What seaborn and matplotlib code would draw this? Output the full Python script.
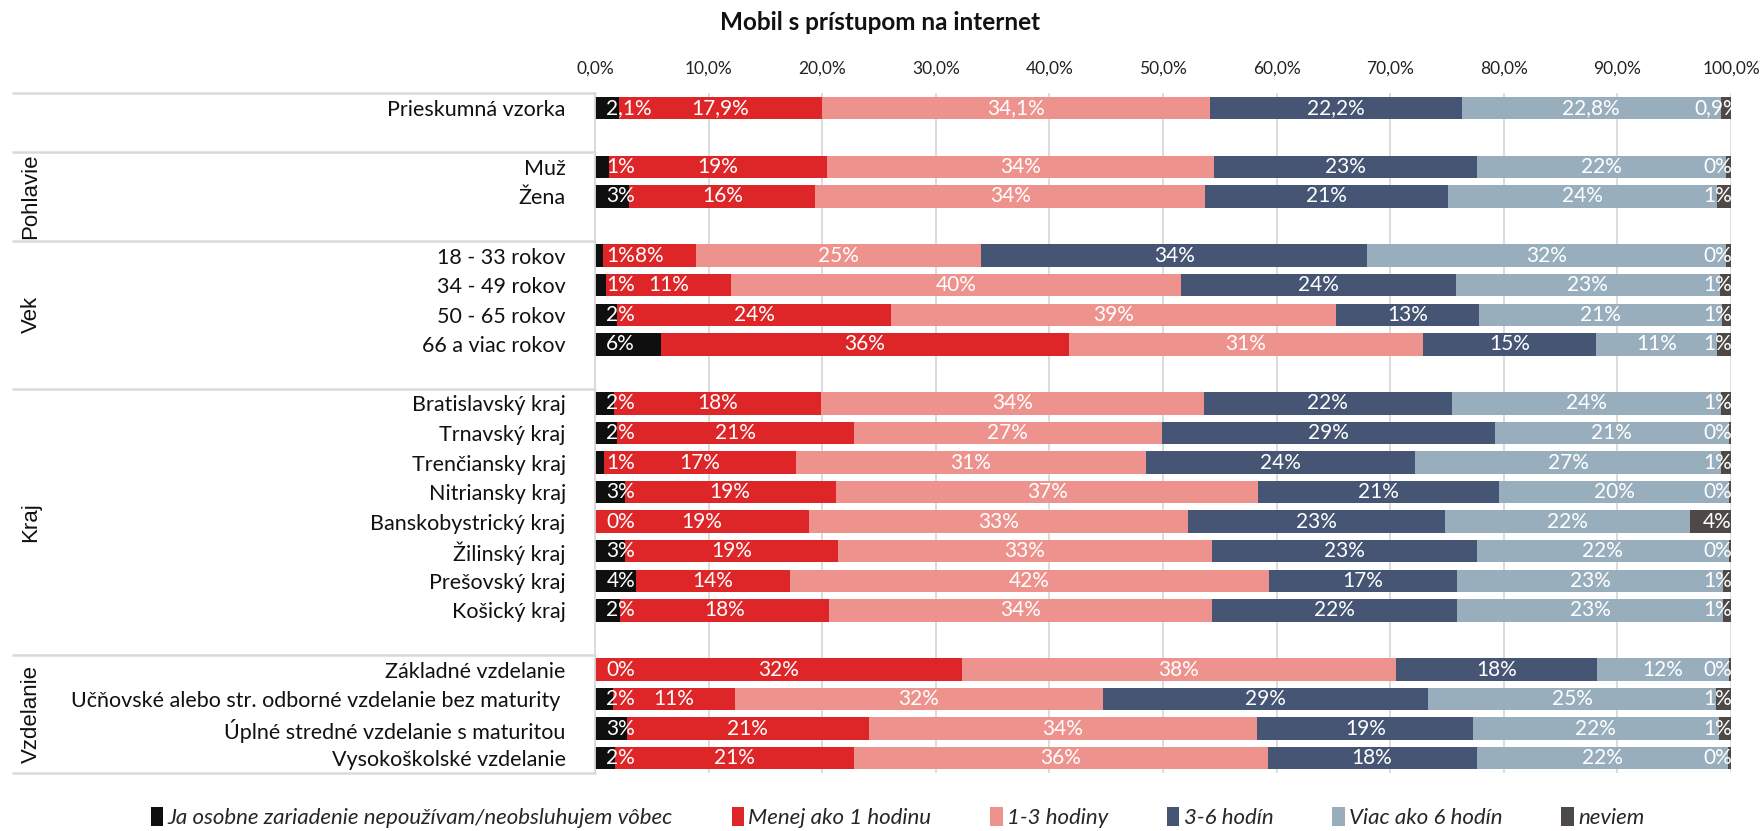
import numpy as np
import pandas as pd
import matplotlib
matplotlib.use("Agg")
import matplotlib.pyplot as plt
import matplotlib.transforms as mtransforms
from matplotlib.patches import Patch
import seaborn as sns

# ---------------- data ----------------
title = "Mobil s prístupom na internet"
series = ["Ja osobne zariadenie nepoužívam/neobsluhujem vôbec", "Menej ako 1 hodinu",
          "1-3 hodiny", "3-6 hodín", "Viac ako 6 hodín", "neviem"]
colors = ["#0f0f0f", "#de2528", "#ee928d", "#465574", "#98aebd", "#4e4947"]

group_names = ["", "Pohlavie", "Vek", "Kraj", "Vzdelanie"]
group_members = [
    ["Prieskumná vzorka"],
    ["Muž", "Žena"],
    ["18 - 33 rokov", "34 - 49 rokov", "50 - 65 rokov", "66 a viac rokov"],
    ["Bratislavský kraj", "Trnavský kraj", "Trenčiansky kraj", "Nitriansky kraj",
     "Banskobystrický kraj", "Žilinský kraj", "Prešovský kraj", "Košický kraj"],
    ["Základné vzdelanie", "Učňovské alebo str. odborné vzdelanie bez maturity ",
     "Úplné stredné vzdelanie s maturitou", "Vysokoškolské vzdelanie"],
]

nepouzivam = [2.1, 1.2, 3.0, 0.7, 1.0, 1.9, 5.8, 1.7, 1.9, 0.8, 2.6, 0.0, 2.6, 3.6, 2.2, 0.0, 1.6, 2.8, 1.8]
menej_1h   = [17.9, 19.2, 16.4, 8.2, 11.0, 24.2, 35.9, 18.2, 20.9, 16.9, 18.6, 18.8, 18.8, 13.6, 18.4, 32.3, 10.7, 21.3, 21.0]
h_1_3      = [34.1, 34.1, 34.3, 25.1, 39.6, 39.1, 31.2, 33.7, 27.1, 30.8, 37.2, 33.4, 32.9, 42.1, 33.7, 38.2, 32.4, 34.2, 36.4]
h_3_6      = [22.2, 23.1, 21.4, 34.0, 24.2, 12.6, 15.2, 21.8, 29.3, 23.7, 21.2, 22.6, 23.3, 16.6, 21.6, 17.7, 28.6, 19.0, 18.4]
viac_6h    = [22.8, 22.0, 23.7, 31.6, 23.2, 21.4, 10.7, 23.7, 20.6, 26.9, 20.2, 21.6, 22.2, 23.4, 23.4, 11.6, 25.4, 21.6, 22.1]
neviem     = [0.9, 0.4, 1.2, 0.4, 1.0, 0.8, 1.2, 0.9, 0.2, 0.9, 0.2, 3.6, 0.2, 0.7, 0.7, 0.2, 1.3, 1.1, 0.3]
label_decimals = [1] + [0] * 18
x_ticks = list(range(0, 101, 10))

# ---------------- layout of rows ----------------
order, group_spans, cats = [], [], []
for gi, members in enumerate(group_members):
    start = len(order)
    for m in members:
        order.append(m)
        cats.append(m)
    if gi < len(group_members) - 1:
        order.append(" " * (gi + 1))   # blank spacer row
    group_spans.append((start - 0.5, len(order) - 0.5))

vals = np.array([nepouzivam, menej_1h, h_1_3, h_3_6, viac_6h, neviem]).T
cum = np.cumsum(vals, axis=1)

sns.set_theme(style="white")
plt.rcParams["font.family"] = ["Lato", "DejaVu Sans"]

W, H = 1760, 831
fig = plt.figure(figsize=(W / 100, H / 100), dpi=100)
ax = fig.add_axes([595 / W, 1 - 773 / H, 1136 / W, 680 / H])

for k in reversed(range(len(series))):
    d = pd.DataFrame({"row": cats, "val": cum[:, k]})
    sns.barplot(data=d, x="val", y="row", order=order, orient="h", color=colors[k],
                saturation=1, width=0.76, errorbar=None, linewidth=0, ax=ax)

ax.set_xlim(0, 100)
ax.set_ylim(len(order) - 0.5, -0.5)
ax.set_xlabel("")
ax.set_ylabel("")

ax.xaxis.tick_top()
ax.set_xticks(x_ticks)
ax.set_xticklabels([f"{t},0%" for t in x_ticks], fontsize=12.5, color="#222222")
ax.tick_params(axis="x", length=0, pad=12)
ax.grid(axis="x", color="#d9d9d9", lw=1.3)
ax.set_axisbelow(True)

ypos = [order.index(c) for c in cats]
ax.set_yticks(ypos)
ax.set_yticklabels(cats, fontsize=15.5, color="#111111")
ax.tick_params(axis="y", length=0, pad=21)

for s in ["top", "right", "bottom"]:
    ax.spines[s].set_visible(False)
ax.spines["left"].set_color("#d9d9d9")
ax.spines["left"].set_linewidth(1.3)

# segment labels
for i, c in enumerate(cats):
    y = order.index(c)
    dec = label_decimals[i]
    for k in range(len(series)):
        v = vals[i, k]
        txt = f"{v:.{dec}f}".replace(".", ",") + "%"
        if k == 0:
            ax.text(1.0, y, txt, ha="left", va="center", color="white", fontsize=15)
        elif k == len(series) - 1:
            ax.text(98.8, y, txt, ha="center", va="center", color="white", fontsize=15, clip_on=True)
        else:
            ax.text(cum[i, k] - v / 2, y, txt, ha="center", va="center", color="white", fontsize=15)

# group separators and labels
blend = mtransforms.blended_transform_factory(ax.transAxes, ax.transData)
x_left = (13 - 595) / 1136
bounds = sorted(set([b for span in group_spans for b in span]))
for b in bounds:
    ax.plot([x_left, 0], [b, b], transform=blend, clip_on=False, color="#d9d9d9", lw=1.8)
for name, (a, b) in zip(group_names, group_spans):
    if name:
        ax.text((31 - 595) / 1136, (a + b) / 2, name, transform=blend, rotation=90,
                ha="center", va="center", fontsize=16, family="Liberation Sans", color="#111111")

fig.text(0.5, 1 - 22 / H, title, ha="center", va="center", fontsize=17.5, fontweight="bold", color="#111111")

handles = [Patch(facecolor=c, edgecolor="none") for c in colors]
fig.legend(handles, series, ncol=6, loc="center", bbox_to_anchor=(0.51, 0.016), frameon=False,
           prop=dict(family="Lato", style="italic", size=16), handlelength=0.55, handleheight=0.9,
           handletextpad=0.2, columnspacing=2.65, borderpad=0)

fig.savefig("out.png", dpi=100)
